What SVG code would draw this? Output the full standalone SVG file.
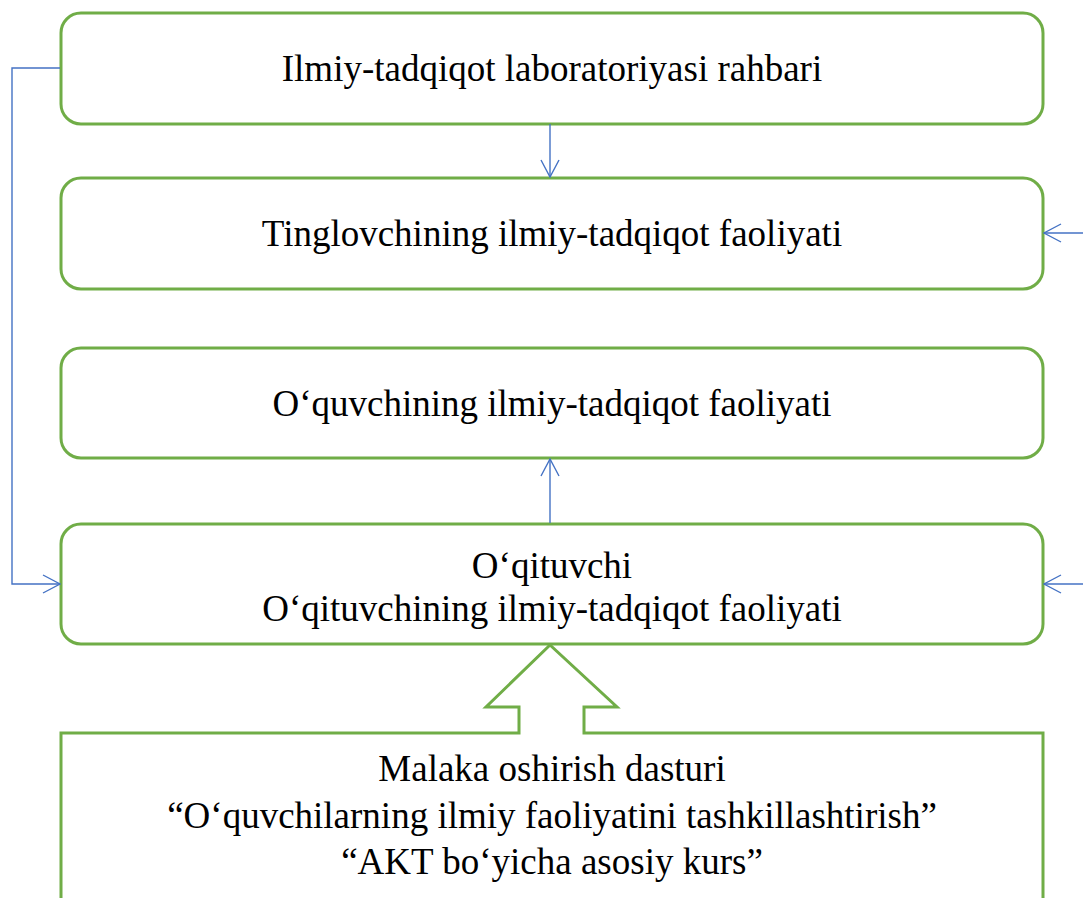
<svg xmlns="http://www.w3.org/2000/svg" width="1083" height="898" viewBox="0 0 1083 898">
<style>
.box{fill:#fff;stroke:#70AD47;stroke-width:3}
.t{font-family:"Liberation Serif","Times New Roman",serif;font-size:37px;fill:#000;text-anchor:middle}
.c{fill:none;stroke:#4472C4;stroke-width:1.4}
</style>
<defs>
<marker id="ah" viewBox="0 0 20 20" refX="19" refY="10" markerWidth="20" markerHeight="20" markerUnits="userSpaceOnUse" orient="auto">
<path d="M2,1 L19,10 L2,19" fill="none" stroke="#4472C4" stroke-width="1.4"/>
</marker>
</defs>
<rect width="1083" height="898" fill="#fff"/>
<g id="n1"><rect class="box" x="61" y="13" width="982" height="111" rx="20"/><text class="t" x="552" y="81">Ilmiy-tadqiqot laboratoriyasi rahbari</text></g>
<g id="n2"><rect class="box" x="61" y="178" width="982" height="111" rx="20"/><text class="t" x="552" y="246">Tinglovchining ilmiy-tadqiqot faoliyati</text></g>
<g id="n3"><rect class="box" x="61" y="348" width="982" height="110" rx="20"/><text class="t" x="552" y="416">O‘quvchining ilmiy-tadqiqot faoliyati</text></g>
<g id="n4"><rect class="box" x="61" y="524" width="982" height="120" rx="20"/><text class="t" x="552" y="578">O‘qituvchi</text><text class="t" x="552" y="621">O‘qituvchining ilmiy-tadqiqot faoliyati</text></g>
<g id="n5"><path class="box" d="M61,900 L61,733 L519,733 L519,707 L486,707 L550,645 L617,707 L584,707 L584,733 L1043,733 L1043,900"/><text class="t" x="552" y="781">Malaka oshirish dasturi</text><text class="t" x="552" y="828">“O‘quvchilarning ilmiy faoliyatini tashkillashtirish”</text><text class="t" x="552" y="874">“AKT bo‘yicha asosiy kurs”</text></g>
<g id="connectors">
<path class="c" d="M550,124 L550,177" marker-end="url(#ah)"/>
<path class="c" d="M550,523 L550,459" marker-end="url(#ah)"/>
<path class="c" d="M60,68 L12,68 L12,584 L60,584" marker-end="url(#ah)"/>
<path class="c" d="M1083,233 L1044,233" marker-end="url(#ah)"/>
<path class="c" d="M1083,584 L1044,584" marker-end="url(#ah)"/>
</g>
</svg>
